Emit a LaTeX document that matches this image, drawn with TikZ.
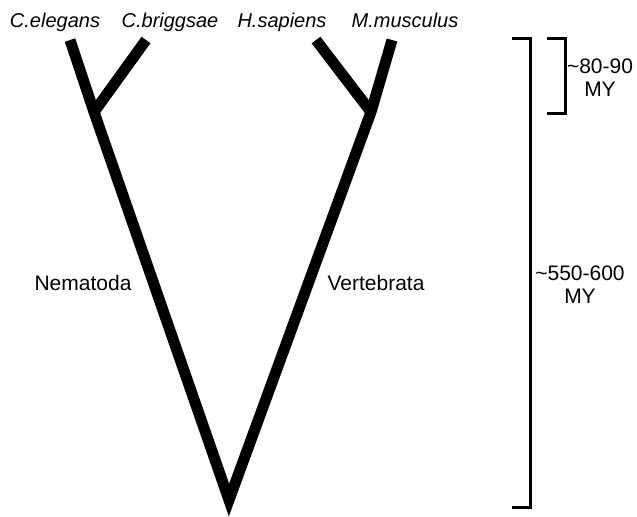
\documentclass[tikz,border=0pt]{standalone}
\usepackage{fontspec}
\setmainfont{Liberation Sans}
\tikzset{
  branch/.style={line width=5.5pt, line join=miter, line cap=butt},
  bracket/.style={line width=1.5pt},
  species/.style={anchor=base, font=\itshape},
  clade/.style={anchor=base},
  age/.style={align=center}
}
\begin{document}
\begin{tikzpicture}[x=0.5pt, y=-0.5pt, font=\fontsize{10.5}{11.5}\selectfont]
\useasboundingbox (0,0) rectangle (637,516);
% tree
\coordinate (ce) at (70,40);
\coordinate (cb) at (146,40);
\coordinate (nem) at (94,112);
\coordinate (hs) at (316,40);
\coordinate (mm) at (392,40);
\coordinate (vrt) at (371,112);
\coordinate (root) at (229,500);
\draw[branch] (ce) -- (nem) -- (root) -- (vrt) -- (mm);
\draw[branch] (nem) -- (cb);
\draw[branch] (vrt) -- (hs);
\node[species] (lce) at (55,27) {C.elegans};
\node[species] (lcb) at (170,27) {C.briggsae};
\node[species] (lhs) at (282,27) {H.sapiens};
\node[species] (lmm) at (405,27) {M.musculus};
\node[clade] (lnem) at (83,290) {Nematoda};
\node[clade] (lvrt) at (376,290) {Vertebrata};
% time scale
\coordinate (big1) at (512,38);
\coordinate (big2) at (530,38);
\coordinate (big3) at (530,507);
\coordinate (big4) at (512,507);
\draw[bracket] (big1) -- (big2) -- (big3) -- (big4);
\coordinate (small1) at (547,38);
\coordinate (small2) at (565,38);
\coordinate (small3) at (565,113);
\coordinate (small4) at (547,113);
\draw[bracket] (small1) -- (small2) -- (small3) -- (small4);
\node[age] (lsmall) at (600,78) {\textasciitilde80-90\\MY};
\node[age] (lbig) at (580,285) {\textasciitilde550-600\\MY};
\end{tikzpicture}
\end{document}
